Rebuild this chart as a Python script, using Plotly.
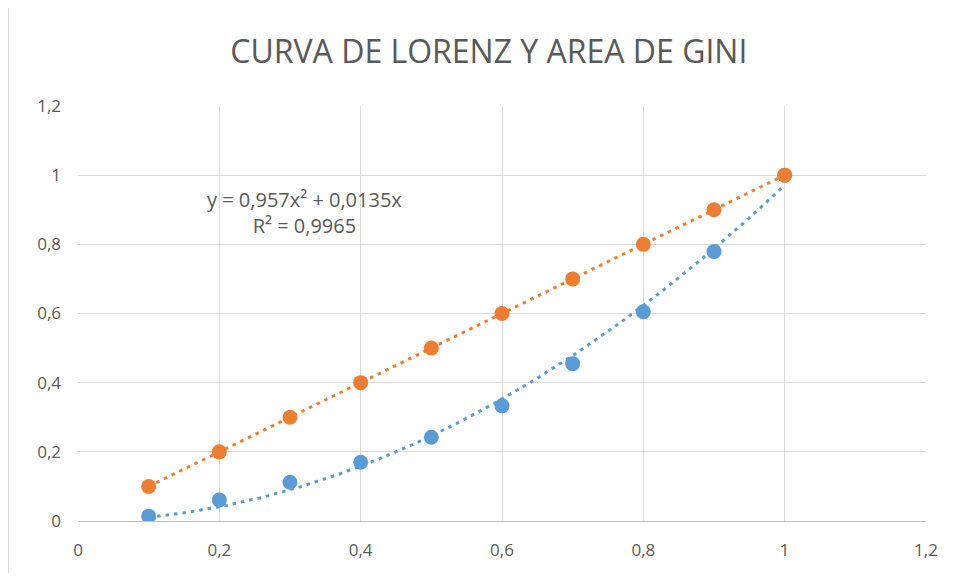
import numpy as np
import plotly.graph_objects as go

# Data
x_vals = [0.1, 0.2, 0.3, 0.4, 0.5, 0.6, 0.7, 0.8, 0.9, 1.0]
lorenz = [0.014, 0.061, 0.112, 0.170, 0.242, 0.333, 0.455, 0.605, 0.779, 1.0]
equality = [0.1, 0.2, 0.3, 0.4, 0.5, 0.6, 0.7, 0.8, 0.9, 1.0]
trend_a = 0.957   # x^2 coefficient shown on chart
trend_b = 0.0135  # x coefficient shown on chart
eq_text = "y = 0,957x² + 0,0135x"
r2_text = "R² = 0,9965"
title_text = "CURVA DE LORENZ Y AREA DE GINI"
tick_vals = [0, 0.2, 0.4, 0.6, 0.8, 1.0, 1.2]

BLUE = "#5B9BD5"
ORANGE = "#ED7D31"
TXT = "#595959"
FONT = "Open Sans"

xt = np.linspace(min(x_vals), max(x_vals), 150)
yt = trend_a * xt ** 2 + trend_b * xt
lin = np.polyfit(x_vals, equality, 1)
ylin = np.polyval(lin, xt)

DOT = "3.5px,5px"

fig = go.Figure()
fig.add_trace(go.Scatter(x=xt, y=yt, mode="lines",
                         line=dict(color=BLUE, width=3, dash=DOT),
                         hoverinfo="skip", showlegend=False))
fig.add_trace(go.Scatter(x=xt, y=ylin, mode="lines",
                         line=dict(color=ORANGE, width=3, dash=DOT),
                         hoverinfo="skip", showlegend=False))
fig.add_trace(go.Scatter(x=x_vals, y=lorenz, mode="markers",
                         marker=dict(color=BLUE, size=15), showlegend=False))
fig.add_trace(go.Scatter(x=x_vals, y=equality, mode="markers",
                         marker=dict(color=ORANGE, size=15), showlegend=False))

axis_common = dict(
    range=[0, 1.2], tickvals=tick_vals, showgrid=True, gridcolor="#d9d9d9",
    gridwidth=1.3, zeroline=False, ticks="", showline=False,
    tickfont=dict(family=FONT, size=17, color=TXT),
)
fig.update_xaxes(**axis_common)
fig.update_yaxes(**axis_common)
fig.update_xaxes(showline=True, linecolor="#bfbfbf", linewidth=1.3, ticklabelstandoff=13)
fig.update_yaxes(ticklabelstandoff=16)

fig.update_layout(
    width=941, height=565,
    margin=dict(l=70, r=23, t=98, b=52),
    paper_bgcolor="white", plot_bgcolor="white",
    separators=",.",
    title=dict(text=title_text, x=0.511, xanchor="center", y=0.922, yanchor="middle",
               font=dict(family=FONT, size=32, color=TXT)),
    annotations=[
        dict(text=eq_text + "<br>" + r2_text,
             x=0.321, y=0.893, xref="x", yref="y", showarrow=False,
             font=dict(family=FONT, size=20, color=TXT), align="center"),
    ],
    shapes=[dict(type="line", xref="paper", yref="paper", x0=-0.082, x1=-0.082,
                 y0=-0.2, y1=1.3, line=dict(color="#d9d9d9", width=1))],
)
fig.write_html("out.html")
